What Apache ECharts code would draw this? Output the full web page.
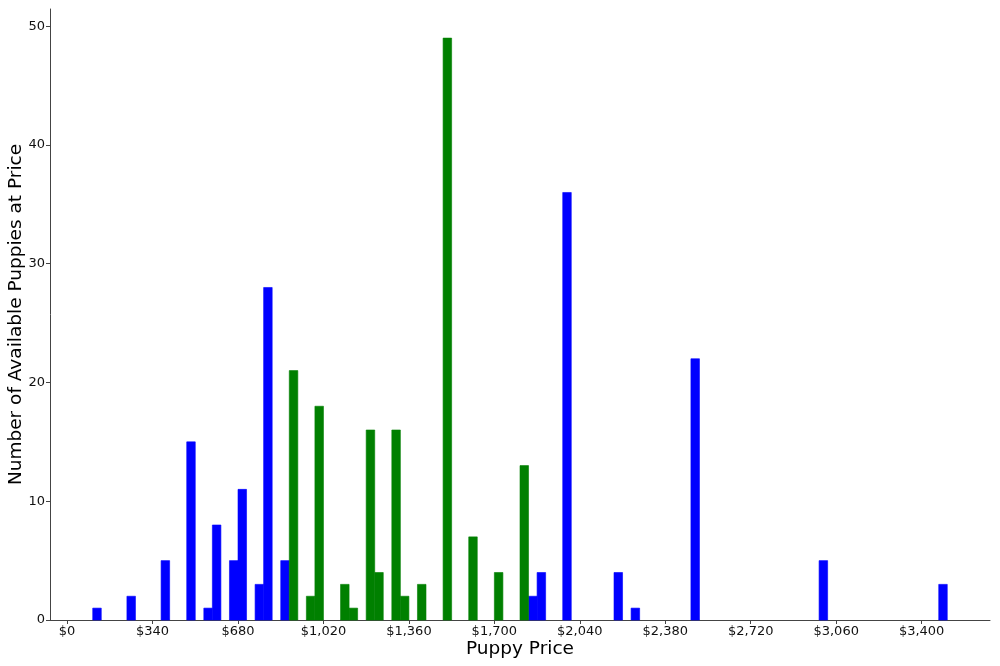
<!DOCTYPE html>
<html>
<head>
<meta charset="utf-8">
<script src="https://cdn.jsdelivr.net/npm/echarts@6/dist/echarts.min.js"></script>
<style>
  html, body { margin: 0; padding: 0; background: #fff; }
  #main { width: 1000px; height: 666px; }
</style>
</head>
<body>
<div id="main"></div>
<script>
    // bin width in dollars, bins given by left edge
    var binWidth = 34;

    var blueBins = [102, 238, 374, 476, 544, 578, 646, 680, 748, 782, 850, 1836, 1870, 1972, 2176, 2244, 2482, 2992, 3468];
    var blueCounts = [1, 2, 5, 15, 1, 8, 5, 11, 3, 28, 5, 2, 4, 36, 4, 1, 22, 5, 3];

    var greenBins = [884, 952, 986, 1088, 1122, 1190, 1224, 1292, 1326, 1394, 1496, 1598, 1700, 1802];
    var greenCounts = [21, 2, 18, 3, 1, 16, 4, 16, 2, 3, 49, 7, 4, 13];

    var xTicks = [0, 340, 680, 1020, 1360, 1700, 2040, 2380, 2720, 3060, 3400];
    var yTicks = [0, 10, 20, 30, 40, 50];

    function toPairs(bins, counts) {
        var out = [];
        for (var i = 0; i < bins.length; i++) {
            out.push([bins[i], counts[i]]);
        }
        return out;
    }

    // histogram bar from left edge to left edge + binWidth
    function histBar(color) {
        return function (params, api) {
            var x = api.value(0);
            var topLeft = api.coord([x, api.value(1)]);
            var bottomRight = api.coord([x + binWidth, 0]);
            return {
                type: 'rect',
                shape: {
                    x: topLeft[0],
                    y: topLeft[1],
                    width: bottomRight[0] - topLeft[0],
                    height: bottomRight[1] - topLeft[1]
                },
                style: { fill: color, stroke: color, lineWidth: 0.6 }
            };
        };
    }

    var myChart = echarts.init(document.getElementById('main'));
    var option = {
        animation: false,
        textStyle: { fontFamily: 'DejaVu Sans' },
        grid: {
            left: 50,
            right: 10,
            top: 9,
            bottom: 46,
            outerBoundsMode: 'none',
            containLabel: false
        },
        xAxis: {
            type: 'value',
            min: -68,
            max: 3672,
            name: 'Puppy Price',
            nameLocation: 'middle',
            nameGap: 20,
            nameMoveOverlap: false,
            nameTextStyle: { fontSize: 18.5, color: '#000', fontFamily: 'DejaVu Sans' },
            splitLine: { show: false },
            axisLine: { show: true, onZero: false, lineStyle: { color: '#444', width: 1 } },
            axisTick: { show: true, length: 4, customValues: xTicks, lineStyle: { color: '#444' } },
            axisLabel: {
                customValues: xTicks,
                fontSize: 13,
                color: '#111',
                margin: 5,
                formatter: function (v) {
                    return '$' + v.toLocaleString('en-US');
                }
            }
        },
        yAxis: {
            type: 'value',
            min: 0,
            max: 51.45,
            name: 'Number of Available Puppies at Price',
            nameLocation: 'middle',
            nameGap: 24,
            nameMoveOverlap: false,
            nameTextStyle: { fontSize: 18.5, color: '#000', fontFamily: 'DejaVu Sans' },
            splitLine: { show: false },
            axisLine: { show: true, onZero: false, lineStyle: { color: '#444', width: 1 } },
            axisTick: { show: true, length: 4, customValues: yTicks, lineStyle: { color: '#444' } },
            axisLabel: {
                customValues: yTicks,
                fontSize: 13,
                color: '#111',
                margin: 5
            }
        },
        series: [
            {
                name: 'blue',
                type: 'custom',
                renderItem: histBar('#0000ff'),
                encode: { x: 0, y: 1 },
                data: toPairs(blueBins, blueCounts)
            },
            {
                name: 'green',
                type: 'custom',
                renderItem: histBar('#008000'),
                encode: { x: 0, y: 1 },
                data: toPairs(greenBins, greenCounts)
            }
        ]
    };
    myChart.setOption(option);
</script>
</body>
</html>
